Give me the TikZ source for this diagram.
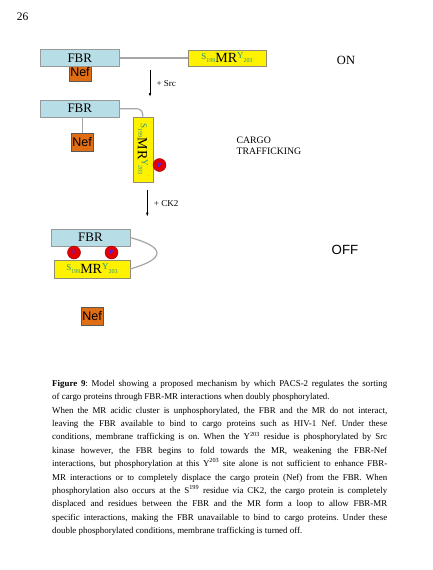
\documentclass[tikz,border=0pt]{standalone}
\usepackage{xcolor}
\usepackage{fontspec}
\setmainfont{Liberation Serif}
\setsansfont{Liberation Sans}
\usepackage{tikz}
\usetikzlibrary{arrows.meta}
\definecolor{fbrblue}{RGB}{183,221,230}
\definecolor{nefcol}{RGB}{226,110,20}
\definecolor{linkgray}{RGB}{165,165,165}
\definecolor{resid}{RGB}{30,150,130}
\definecolor{plabel}{RGB}{70,40,255}
\newcommand{\mrtext}{{\color{resid}\raisebox{3pt}{\fontsize{9}{9}\selectfont S}\raisebox{0.5pt}{\fontsize{6}{6}\selectfont 199}}MR{\color{resid}\raisebox{4pt}{\fontsize{9}{9}\selectfont Y}\raisebox{0.5pt}{\fontsize{6}{6}\selectfont 203}}}

\begin{document}
\begin{tikzpicture}[x=1pt, y=-1pt,
	fbr/.style={draw=gray!80, fill=fbrblue, minimum width=79pt, minimum height=17pt, inner sep=0pt, font=\fontsize{13}{13}\selectfont},
	nef/.style={draw=gray!70!black, fill=nefcol, minimum width=22pt, minimum height=18pt, inner sep=0pt, font=\sffamily\fontsize{12.5}{12.5}\selectfont},
	mr/.style={draw=gray!80!olive, fill=yellow, minimum width=78pt, minimum height=16.5pt, inner sep=0pt, font=\fontsize{14}{14}\selectfont},
	phos/.style={circle, draw=red!60!black, fill=red!90!black, minimum size=13pt, inner sep=0pt, text=plabel, font=\bfseries\fontsize{6.5}{6.5}\selectfont},
	link/.style={draw=linkgray, line width=1.2pt},
	addarrow/.style={-{Latex[length=4pt,width=2.5pt]}, line width=0.6pt},
	tag/.style={font=\fontsize{9}{9}\selectfont}
]
\useasboundingbox (0,0) rectangle (433,570);
\node[font=\fontsize{11.5}{11.5}\selectfont] (0) at (22.5, 17){26};

\node[nef] (1) at (80, 72){Nef};
\node[fbr] (2) at (79.8, 58){FBR};
\node[mr] (3) at (227, 58){\mrtext};
\node[font=\fontsize{12.5}{12.5}\selectfont] (4) at (346, 60){ON};
\draw[link] (2) -- (3);

\coordinate (5) at (150, 70);
\coordinate (6) at (150, 97);
\draw[addarrow] (5) -- node[tag, right=3pt]{+ Src} (6);

\node[fbr] (7) at (79.8, 108.7){FBR};
\node[nef] (8) at (82, 142.5){Nef};
\node[mr, rotate=-90, minimum width=65pt, minimum height=20pt] (9) at (142.7, 149.2){\mrtext};
\node[phos] (10) at (159.5, 165){P};
\node[align=left, anchor=west, font=\fontsize{9.8}{11.5}\selectfont] (11) at (233, 146){CARGO\\TRAFFICKING};
\draw[link, line width=0.8pt] (8.north) -- (8.north |- 7.south);
\draw[link, rounded corners=6pt] (7.east) -| (9.west);

\coordinate (12) at (147.3, 190);
\coordinate (13) at (147.3, 216.7);
\draw[addarrow] (12) -- node[tag, right=3pt]{+ CK2} (13);

\node[fbr, minimum width=78.4pt] (14) at (90.5, 237.5){FBR};
\node[mr, minimum width=75.7pt, minimum height=17.5pt] (15) at (91.9, 269){\mrtext};
\node[phos] (16) at (74, 252.5){P};
\node[phos] (17) at (111.5, 252.5){P};
\draw[link] (14.east) .. controls (166, 247) and (166, 259) .. (15.east);
\node[font=\sffamily\fontsize{13.3}{13.3}\selectfont] (18) at (345, 250){OFF};
\node[nef] (19) at (92, 316){Nef};

\node[anchor=north west, text width=335pt, inner sep=0pt, align=justify, font=\fontsize{8.9}{13.4}\selectfont] (20) at (52, 380){%
\tolerance=10000 \hyphenpenalty=10000 \frenchspacing
\textbf{Figure 9}: Model showing a proposed mechanism by which PACS-2 regulates the sorting\linebreak
of cargo proteins through FBR-MR interactions when doubly phosphorylated.\par
When the MR acidic cluster is unphosphorylated, the FBR and the MR do not interact,\linebreak
leaving the FBR available to bind to cargo proteins such as HIV-1 Nef. Under these\linebreak
conditions, membrane trafficking is on. When the Y\textsuperscript{203} residue is phosphorylated by Src\linebreak
kinase however, the FBR begins to fold towards the MR, weakening the FBR-Nef\linebreak
interactions, but phosphorylation at this Y\textsuperscript{203} site alone is not sufficient to enhance FBR-\linebreak
MR interactions or to completely displace the cargo protein (Nef) from the FBR. When\linebreak
phosphorylation also occurs at the S\textsuperscript{199} residue via CK2, the cargo protein is completely\linebreak
displaced and residues between the FBR and the MR form a loop to allow FBR-MR\linebreak
specific interactions, making the FBR unavailable to bind to cargo proteins. Under these\linebreak
double phosphorylated conditions, membrane trafficking is turned off.};
\end{tikzpicture}
\end{document}
